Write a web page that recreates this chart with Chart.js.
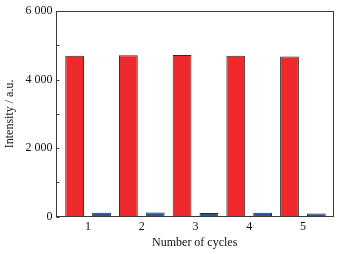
<!DOCTYPE html>
<html>
<head>
<meta charset="utf-8">
<script src="https://cdn.jsdelivr.net/npm/chart.js@4/dist/chart.umd.min.js"></script>
<style>
  html, body { margin: 0; padding: 0; background: #fff; }
  #wrap { width: 342px; height: 254px; }
</style>
</head>
<body>
<div id="wrap"><canvas id="myBarChart"></canvas></div>
<script>
  // data
  var cycles = [1, 2, 3, 4, 5];
  var redValues = [4700, 4710, 4720, 4700, 4680];
  var blueValues = [110, 120, 105, 110, 90];
  var yTicks = [0, 2000, 4000, 6000];

  var axisColor = '#3a3a3a';
  var font = { family: 'Liberation Serif', size: 12 };

  function toPoints(values) {
    return values.map(function(v, i) { return { x: cycles[i], y: v }; });
  }

  // frame and inward minor ticks
  var framePlugin = {
    id: 'frame',
    afterDraw: function(chart) {
      var ctx = chart.ctx;
      var a = chart.chartArea;
      var y = chart.scales.y;
      ctx.save();
      ctx.strokeStyle = axisColor;
      ctx.lineWidth = 1;
      ctx.strokeRect(Math.round(a.left) + 0.5, Math.round(a.top) + 0.5,
        Math.round(a.right - a.left), Math.round(a.bottom - a.top));
      y.ticks.forEach(function(t) {
        var py = Math.round(y.getPixelForValue(t.value)) + 0.5;
        ctx.beginPath();
        ctx.moveTo(a.left, py);
        ctx.lineTo(a.left + 3, py);
        ctx.stroke();
      });
      ctx.restore();
    }
  };

  var ctx = document.getElementById('myBarChart').getContext('2d');
  var myBarChart = new Chart(ctx, {
    type: 'bar',
    data: {
      datasets: [{
        label: 'red',
        data: toPoints(redValues),
        backgroundColor: '#ef2a2c',
        borderColor: '#3a2626',
        borderWidth: 1,
        categoryPercentage: 1,
        barPercentage: 0.7
      }, {
        label: 'blue',
        data: toPoints(blueValues),
        backgroundColor: '#2356a8',
        borderColor: '#1a2a44',
        borderWidth: 1,
        categoryPercentage: 1,
        barPercentage: 0.7
      }]
    },
    options: {
      responsive: true,
      maintainAspectRatio: false,
      animation: false,
      layout: { padding: { top: 7, right: 9, left: 3, bottom: 5 } },
      plugins: { legend: { display: false }, tooltip: { enabled: false } },
      scales: {
        x: {
          type: 'linear',
          offset: false,
          min: 0.41,
          max: 5.56,
          afterBuildTicks: function(scale) {
            scale.ticks = cycles.map(function(c) { return { value: c }; });
          },
          grid: { display: false, drawTicks: false },
          border: { display: false },
          ticks: { color: '#111', font: font, padding: 3 },
          title: { display: true, text: 'Number of cycles', color: '#111', font: { family: 'Liberation Serif', size: 12, lineHeight: 1 }, padding: { top: 0, bottom: 0 } }
        },
        y: {
          min: 0,
          max: 6000,
          grid: { display: false, drawTicks: false },
          border: { display: false },
          ticks: {
            stepSize: 1000,
            color: '#111',
            font: font,
            padding: 4,
            autoSkip: false,
            callback: function(v) {
              if (yTicks.indexOf(v) < 0) return '';
              return v >= 1000 ? Math.floor(v / 1000) + ' ' + String(v % 1000).padStart(3, '0') : String(v);
            }
          },
          title: { display: true, text: 'Intensity / a.u.', color: '#111', font: font, padding: { top: 0, bottom: 4 } }
        }
      }
    },
    plugins: [framePlugin]
  });
</script>
</body>
</html>
